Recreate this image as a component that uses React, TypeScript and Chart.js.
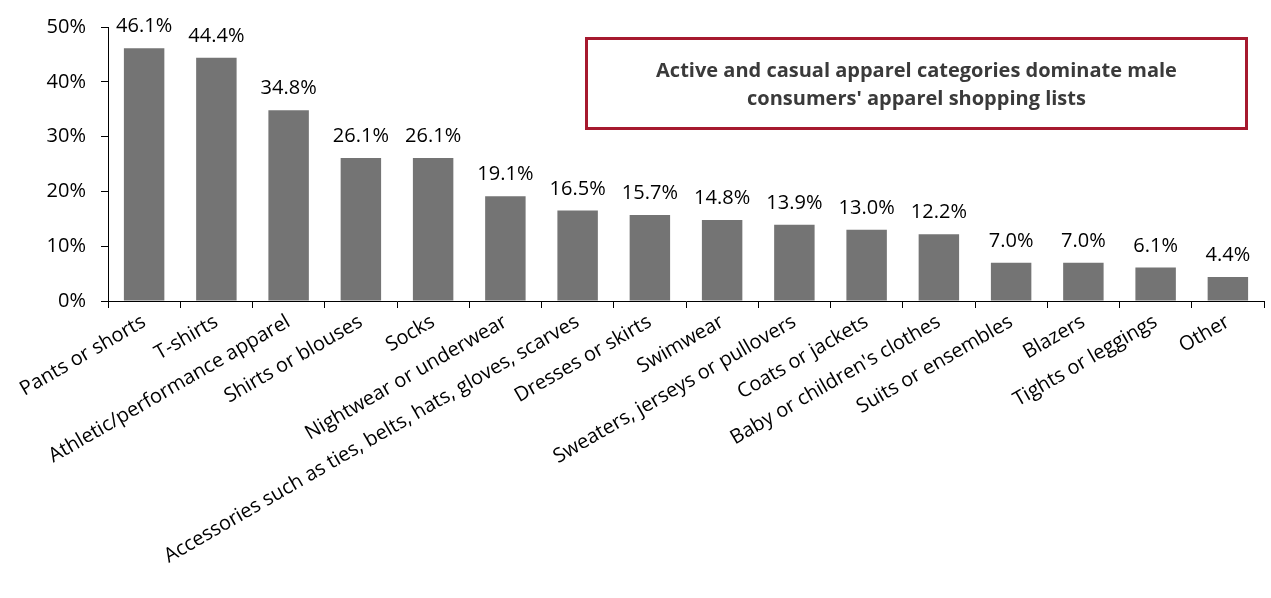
import React, { useEffect, useRef } from "react";
import { Chart, registerables } from "chart.js";

Chart.register(...registerables);

const categories = [
  "Pants or shorts",
  "T-shirts",
  "Athletic/performance apparel",
  "Shirts or blouses",
  "Socks",
  "Nightwear or underwear",
  "Accessories such as ties, belts, hats, gloves, scarves",
  "Dresses or skirts",
  "Swimwear",
  "Sweaters, jerseys or pullovers",
  "Coats or jackets",
  "Baby or children's clothes",
  "Suits or ensembles",
  "Blazers",
  "Tights or leggings",
  "Other",
];

const shares = [46.1, 44.4, 34.8, 26.1, 26.1, 19.1, 16.5, 15.7, 14.8, 13.9, 13.0, 12.2, 7.0, 7.0, 6.1, 4.4];

const yTicks = [0, 10, 20, 30, 40, 50];

const calloutLines = [
  "Active and casual apparel categories dominate male",
  "consumers' apparel shopping lists",
];

const FONT = "'Open Sans', 'Noto Sans', sans-serif";

const dataLabelPlugin = {
  id: "dataLabels",
  afterDatasetsDraw(chart: any) {
    const ctx = chart.ctx;
    const meta = chart.getDatasetMeta(0);
    ctx.save();
    ctx.font = `20px ${FONT}`;
    ctx.fillStyle = "#000";
    ctx.textAlign = "center";
    ctx.textBaseline = "alphabetic";
    meta.data.forEach((bar: any, i: number) => {
      ctx.fillText(shares[i].toFixed(1) + "%", bar.x, bar.y - 16);
    });
    ctx.restore();
  },
};

export default function App() {
  const ref = useRef<HTMLCanvasElement | null>(null);

  useEffect(() => {
    if (!ref.current) return;
    const chart = new Chart(ref.current, {
      type: "bar",
      data: {
        labels: categories,
        datasets: [
          {
            data: shares,
            backgroundColor: "#747474",
            borderWidth: 0,
            barPercentage: 0.56,
            categoryPercentage: 1,
          },
        ],
      },
      options: {
        animation: false,
        responsive: false,
        maintainAspectRatio: false,
        layout: { padding: { top: 25, right: 7, left: 0, bottom: 0 } },
        plugins: {
          legend: { display: false },
          tooltip: { enabled: false },
        },
        scales: {
          x: {
            offset: true,
            grid: {
              offset: true,
              drawOnChartArea: false,
              drawTicks: true,
              tickLength: 7,
              color: "#000",
            },
            border: { display: true, color: "#000", width: 1 },
            ticks: {
              autoSkip: false,
              minRotation: 30,
              maxRotation: 30,
              padding: 2,
              color: "#000",
              font: { family: FONT, size: 20 },
            },
            afterFit: (axis: any) => {
              axis.height = 297;
            },
          },
          y: {
            min: 0,
            max: 50,
            afterBuildTicks: (axis: any) => {
              axis.ticks = yTicks.map((v) => ({ value: v }));
            },
            grid: {
              drawOnChartArea: false,
              drawTicks: true,
              tickLength: 7,
              color: "#000",
            },
            border: { display: true, color: "#000", width: 1 },
            ticks: {
              padding: 15,
              color: "#000",
              font: { family: FONT, size: 20 },
              callback: (v: any) => v + "%",
            },
            afterFit: (axis: any) => {
              axis.width = 108;
            },
          },
        },
      },
      plugins: [dataLabelPlugin],
    });
    return () => chart.destroy();
  }, []);

  return (
    <div style={{ position: "fixed", left: 0, top: 0, width: 1271, height: 598, background: "#fff" }}>
      <canvas ref={ref} width={1271} height={598} style={{ display: "block" }} />
      <div
        style={{
          position: "absolute",
          left: 585,
          top: 37,
          width: 663,
          height: 93,
          boxSizing: "border-box",
          border: "3px solid #A6192E",
          display: "flex",
          flexDirection: "column",
          alignItems: "center",
          justifyContent: "center",
          fontFamily: FONT,
          fontWeight: 700,
          fontSize: 20,
          lineHeight: "28px",
          color: "#3a3a3a",
          textAlign: "center",
        }}
      >
        {calloutLines.map((l, i) => (
          <div key={i}>{l}</div>
        ))}
      </div>
    </div>
  );
}
